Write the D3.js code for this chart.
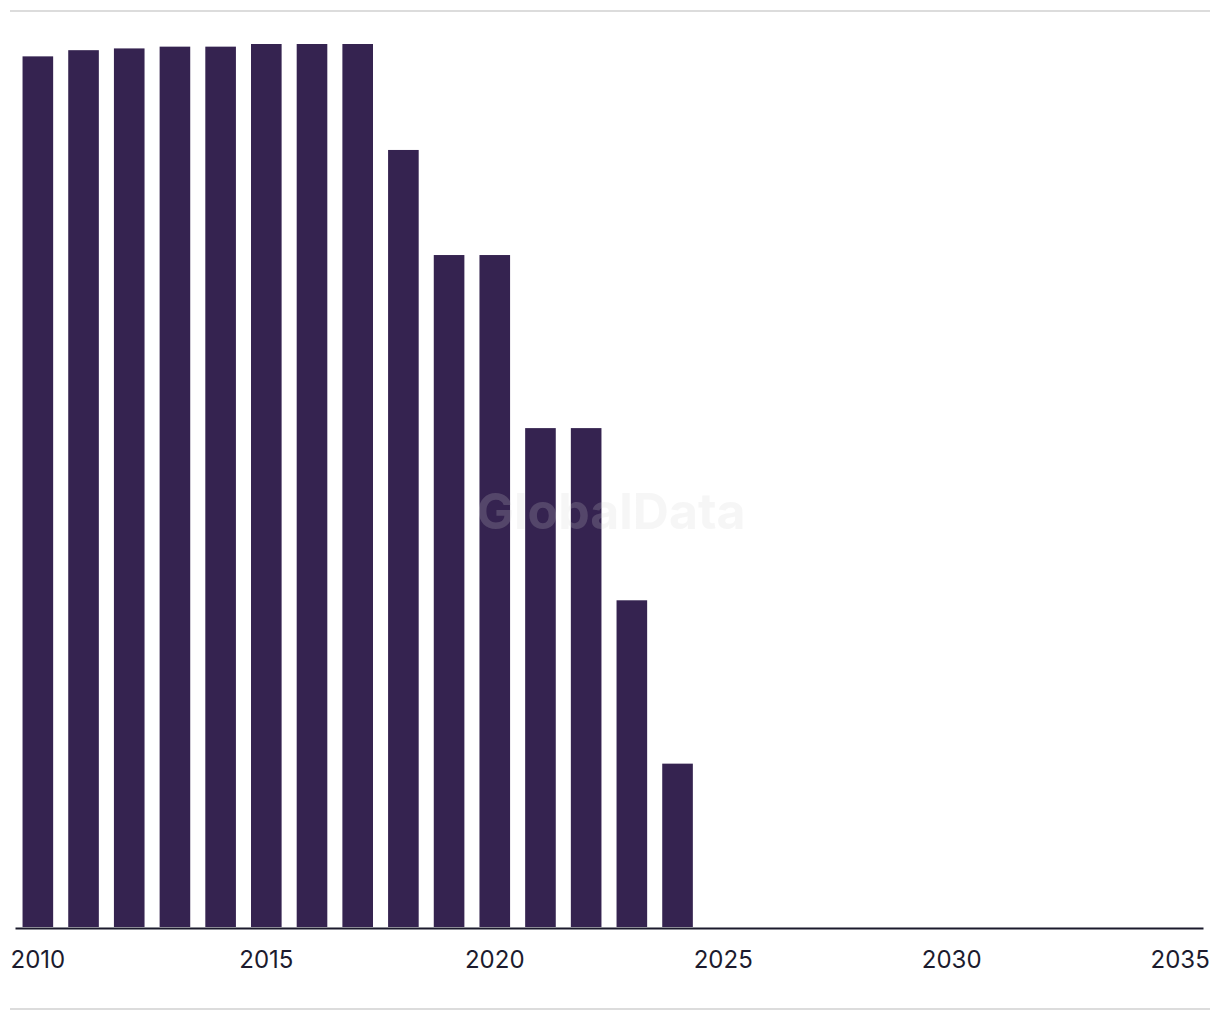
<!DOCTYPE html>
<html>
<head>
<meta charset="utf-8">
<script src="https://cdn.jsdelivr.net/npm/d3@7"></script>
<style>
  html, body { margin: 0; padding: 0; background: #ffffff; }
  svg { display: block; }
</style>
</head>
<body>
<svg id="chart" width="1220" height="1020"></svg>
<script>
// ---- data ----
const years = [2010, 2011, 2012, 2013, 2014, 2015, 2016, 2017, 2018, 2019, 2020, 2021, 2022, 2023, 2024];
const values = [98.6, 99.3, 99.5, 99.7, 99.7, 100, 100, 100, 88.0, 76.1, 76.1, 56.5, 56.5, 37.0, 18.5];
const axisYears = d3.range(2010, 2036);
const tickYears = [2010, 2015, 2020, 2025, 2030, 2035];

const svg = d3.select("#chart");

const x = d3.scaleBand().domain(axisYears).range([15, 1203]).paddingInner(0.33).paddingOuter(0.165);
const y = d3.scaleLinear().domain([0, 100]).range([927, 44]);

// frame lines
svg.append("line").attr("x1", 10).attr("x2", 1210).attr("y1", 11).attr("y2", 11)
  .attr("stroke", "#dcdcdc").attr("stroke-width", 2);
svg.append("line").attr("x1", 10).attr("x2", 1210).attr("y1", 1009).attr("y2", 1009)
  .attr("stroke", "#dcdcdc").attr("stroke-width", 2);

// bars
svg.append("g").selectAll("rect").data(years).join("rect")
  .attr("x", d => x(d))
  .attr("width", x.bandwidth())
  .attr("y", (d, i) => y(values[i]))
  .attr("height", (d, i) => y(0) - y(values[i]))
  .attr("fill", "#352350");

// watermark
svg.append("text").attr("x", 611).attr("y", 529)
  .attr("text-anchor", "middle")
  .attr("font-family", "Inter, 'Liberation Sans', sans-serif")
  .attr("font-weight", 700).attr("font-size", 50)
  .attr("fill", "#d0d0d0").attr("fill-opacity", 0.2)
  .text("GlobalData");

// x axis
const xAxis = d3.axisBottom(x).tickValues(tickYears).tickSize(0).tickPadding(0).tickFormat(d3.format("d"));
const gx = svg.append("g").attr("transform", "translate(0,928)").call(xAxis);
gx.select(".domain").attr("stroke", "#1b1a2c").attr("stroke-width", 2);
gx.selectAll("text")
  .attr("dy", 0).attr("y", 40)
  .attr("font-family", "Inter, 'Liberation Sans', sans-serif")
  .attr("font-size", 24)
  .attr("fill", "#1c1b2e");
</script>
</body>
</html>
